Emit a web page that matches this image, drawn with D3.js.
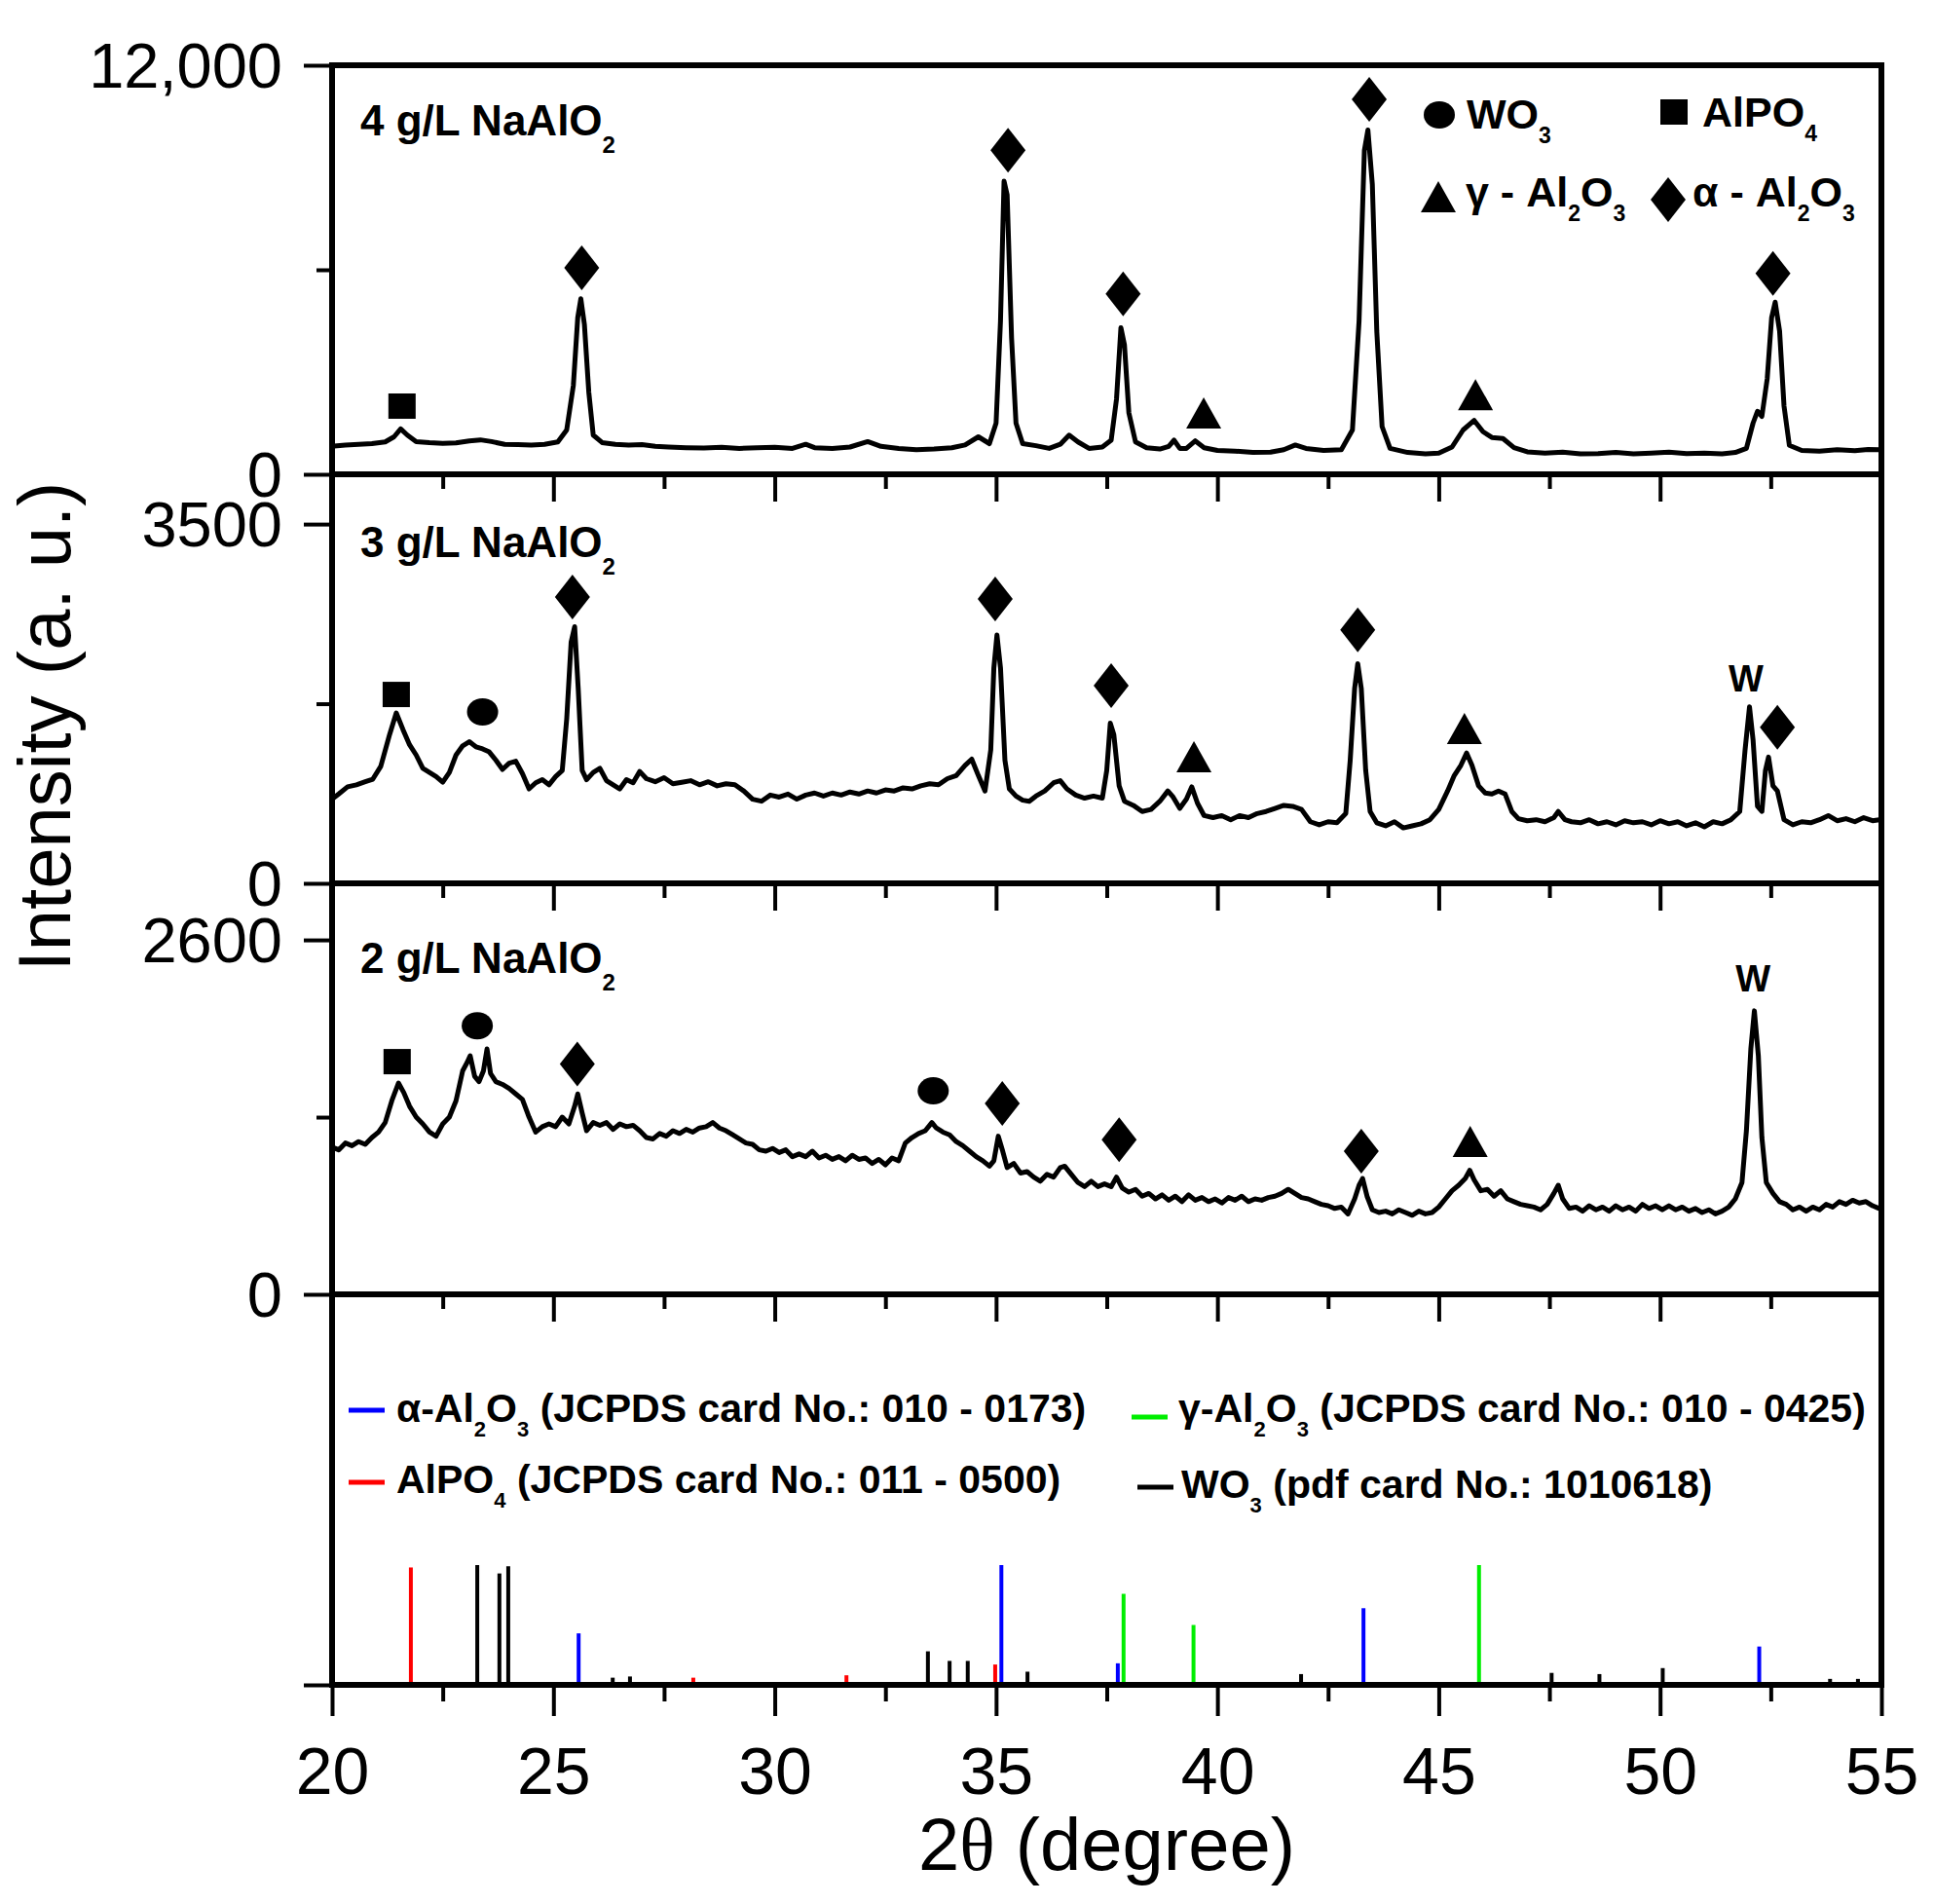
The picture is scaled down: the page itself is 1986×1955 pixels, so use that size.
<!DOCTYPE html>
<html>
<head>
<meta charset="utf-8">
<script src="https://cdn.jsdelivr.net/npm/d3@7"></script>
<style>
  body { margin: 0; background: #fff; }
  svg text { font-family: "Liberation Sans", Arial, sans-serif; fill: #000; }
</style>
</head>
<body>
<svg id="chart" width="1986" height="1955"></svg>
<script>
// =====================
// Data: [2theta, intensity]
// =====================
const scan4 = [[20.05,830],[20.3,860],[20.6,880],[20.9,900],[21.2,950],[21.4,1100],[21.55,1330],[21.7,1150],[21.9,960],
  [22.2,930],[22.5,910],[22.8,920],[23.1,980],[23.35,1010],[23.6,960],[23.9,880],[24.2,870],[24.5,860],[24.8,880],[25.1,950],
  [25.3,1300],[25.45,2600],[25.55,4600],[25.62,5150],[25.7,4400],[25.8,2400],[25.9,1150],[26.1,930],[26.4,880],[26.7,860],
  [27.0,870],[27.3,820],[27.6,800],[28.0,780],[28.4,770],[28.8,790],[29.2,760],[29.6,780],[30.0,790],[30.4,760],[30.7,880],
  [30.9,780],[31.3,760],[31.7,800],[32.1,960],[32.4,820],[32.8,760],[33.2,720],[33.6,740],[34.0,780],[34.3,860],[34.6,1100],
  [34.85,900],[35.0,1500],[35.1,4500],[35.18,8600],[35.25,8200],[35.35,4000],[35.45,1500],[35.6,900],[35.9,840],[36.2,760],
  [36.45,880],[36.65,1150],[36.85,950],[37.1,760],[37.4,800],[37.6,1000],[37.72,2200],[37.82,4300],[37.9,3800],[38.0,1800],
  [38.15,950],[38.4,780],[38.7,740],[38.9,820],[39.02,1000],[39.15,760],[39.3,760],[39.5,980],[39.7,780],[40.0,700],[40.4,680],
  [40.8,640],[41.2,650],[41.5,720],[41.76,860],[42.0,760],[42.4,700],[42.8,720],[43.05,1300],[43.2,4500],[43.32,9500],
  [43.4,10100],[43.5,8500],[43.6,4200],[43.72,1400],[43.9,760],[44.3,640],[44.7,600],[45.0,620],[45.3,800],[45.55,1300],
  [45.8,1580],[46.0,1250],[46.2,1080],[46.45,1050],[46.7,780],[47.0,660],[47.4,620],[47.8,650],[48.2,600],[48.6,610],
  [49.0,640],[49.4,600],[49.8,620],[50.2,650],[50.6,610],[51.0,620],[51.4,600],[51.7,640],[51.95,760],[52.1,1500],[52.2,1850],
  [52.3,1700],[52.42,2800],[52.52,4600],[52.6,5050],[52.7,4200],[52.8,2000],[52.92,850],[53.2,700],[53.6,680],[54.0,720],
  [54.4,690],[54.7,730],[54.95,720]];

const scan3 = [[20.0,820],[20.15,870],[20.35,940],[20.55,960],[20.75,990],[20.92,1015],[21.1,1140],[21.3,1450],[21.45,1660],
  [21.6,1500],[21.75,1350],[21.9,1250],[22.05,1120],[22.2,1080],[22.35,1040],[22.5,985],[22.65,1080],[22.8,1250],[22.95,1340],
  [23.1,1380],[23.25,1330],[23.4,1310],[23.55,1280],[23.7,1200],[23.85,1110],[24.0,1170],[24.15,1190],[24.3,1070],[24.45,920],
  [24.6,980],[24.75,1010],[24.9,960],[25.05,1040],[25.2,1100],[25.3,1600],[25.4,2350],[25.48,2500],[25.56,1900],[25.65,1100],
  [25.75,1010],[25.9,1080],[26.05,1120],[26.2,1000],[26.35,960],[26.5,920],[26.65,1010],[26.8,980],[26.95,1090],[27.1,1020],
  [27.3,990],[27.5,1030],[27.7,970],[27.9,985],[28.1,1000],[28.3,960],[28.5,990],[28.7,950],[28.9,970],[29.1,960],[29.3,900],
  [29.5,820],[29.7,800],[29.9,860],[30.1,840],[30.3,870],[30.5,820],[30.7,860],[30.9,880],[31.1,850],[31.3,880],[31.5,860],
  [31.7,890],[31.9,870],[32.1,900],[32.3,880],[32.5,910],[32.7,900],[32.9,930],[33.1,920],[33.3,950],[33.5,970],[33.7,960],
  [33.9,1020],[34.1,1050],[34.3,1150],[34.45,1210],[34.6,1050],[34.75,900],[34.88,1300],[34.95,2100],[35.02,2420],[35.1,2100],
  [35.2,1200],[35.3,920],[35.45,850],[35.6,810],[35.75,800],[35.9,850],[36.1,900],[36.3,980],[36.45,1000],[36.6,920],
  [36.8,860],[37.0,830],[37.2,850],[37.4,830],[37.5,1100],[37.58,1560],[37.66,1450],[37.78,950],[37.9,800],[38.1,760],
  [38.3,700],[38.5,720],[38.7,800],[38.88,900],[39.0,840],[39.15,730],[39.3,820],[39.42,940],[39.55,780],[39.7,660],
  [39.9,640],[40.1,660],[40.3,620],[40.5,660],[40.7,640],[40.9,680],[41.1,700],[41.3,730],[41.5,760],[41.7,750],[41.9,720],
  [42.1,600],[42.3,570],[42.5,600],[42.7,590],[42.9,680],[43.0,1200],[43.1,1900],[43.17,2140],[43.25,1900],[43.35,1100],
  [43.45,700],[43.6,590],[43.8,560],[44.0,600],[44.2,540],[44.4,560],[44.6,580],[44.8,620],[45.0,720],[45.2,900],[45.35,1050],
  [45.5,1150],[45.63,1270],[45.75,1150],[45.9,950],[46.05,880],[46.2,870],[46.35,900],[46.5,870],[46.65,700],[46.8,630],
  [47.0,610],[47.2,620],[47.4,600],[47.6,640],[47.7,700],[47.85,620],[48.0,600],[48.2,590],[48.4,620],[48.6,580],[48.8,600],
  [49.0,570],[49.2,610],[49.4,590],[49.6,600],[49.8,570],[50.0,610],[50.2,580],[50.4,600],[50.6,560],[50.8,590],[51.0,550],
  [51.2,600],[51.4,580],[51.6,620],[51.8,700],[51.92,1300],[52.02,1720],[52.1,1400],[52.2,750],[52.3,700],[52.38,1100],
  [52.45,1230],[52.55,950],[52.65,900],[52.8,620],[53.0,570],[53.2,600],[53.4,590],[53.6,620],[53.8,660],[54.0,610],
  [54.2,630],[54.4,600],[54.6,640],[54.8,610],[54.95,620]];

const scan2 = [[20.0,1080],[20.15,1060],[20.3,1110],[20.45,1090],[20.6,1120],[20.75,1100],[20.9,1150],[21.05,1190],[21.2,1260],
  [21.35,1420],[21.5,1550],[21.62,1480],[21.75,1380],[21.9,1300],[22.05,1250],[22.2,1190],[22.35,1160],[22.5,1250],[22.65,1300],
  [22.8,1420],[22.95,1640],[23.05,1700],[23.12,1750],[23.22,1600],[23.32,1560],[23.42,1640],[23.5,1800],[23.58,1620],
  [23.7,1560],[23.85,1540],[24.0,1510],[24.15,1470],[24.3,1430],[24.45,1300],[24.6,1190],[24.75,1230],[24.9,1250],[25.05,1230],
  [25.2,1300],[25.35,1250],[25.48,1380],[25.55,1470],[25.65,1330],[25.75,1200],[25.9,1260],[26.05,1240],[26.2,1260],
  [26.35,1210],[26.5,1250],[26.65,1230],[26.8,1240],[26.95,1200],[27.1,1150],[27.25,1140],[27.4,1180],[27.55,1160],
  [27.7,1200],[27.85,1180],[28.0,1210],[28.15,1190],[28.3,1220],[28.45,1230],[28.6,1260],[28.75,1220],[28.9,1200],
  [29.05,1170],[29.2,1140],[29.35,1110],[29.5,1100],[29.65,1060],[29.8,1050],[29.95,1070],[30.1,1040],[30.25,1060],
  [30.4,1010],[30.55,1030],[30.7,1010],[30.85,1050],[31.0,1000],[31.15,1020],[31.3,990],[31.45,1010],[31.6,980],[31.75,1020],
  [31.9,990],[32.05,1000],[32.2,960],[32.35,990],[32.5,950],[32.65,1000],[32.8,980],[32.95,1110],[33.1,1150],[33.25,1180],
  [33.4,1200],[33.55,1260],[33.65,1220],[33.8,1190],[33.95,1170],[34.1,1120],[34.25,1090],[34.4,1050],[34.55,1010],
  [34.7,980],[34.85,940],[34.95,980],[35.05,1160],[35.15,1050],[35.25,930],[35.4,960],[35.55,890],[35.7,900],[35.85,860],
  [36.0,830],[36.15,880],[36.3,860],[36.45,930],[36.55,940],[36.7,880],[36.85,820],[37.0,790],[37.15,830],[37.3,790],
  [37.45,810],[37.6,790],[37.72,860],[37.85,780],[38.0,750],[38.15,770],[38.3,720],[38.45,740],[38.6,700],[38.75,730],
  [38.9,690],[39.05,720],[39.2,680],[39.35,730],[39.5,690],[39.65,710],[39.8,680],[39.95,700],[40.1,670],[40.25,710],
  [40.4,690],[40.55,720],[40.7,680],[40.85,700],[41.0,690],[41.15,710],[41.3,720],[41.45,740],[41.6,770],[41.75,740],
  [41.9,710],[42.05,700],[42.2,680],[42.35,660],[42.5,650],[42.65,630],[42.8,640],[42.95,590],[43.1,700],[43.2,800],
  [43.28,850],[43.38,720],[43.5,620],[43.65,600],[43.8,610],[43.95,590],[44.1,620],[44.25,600],[44.4,580],[44.55,610],
  [44.7,590],[44.85,600],[45.0,640],[45.15,700],[45.3,760],[45.45,800],[45.6,850],[45.7,910],[45.8,840],[45.95,760],
  [46.1,770],[46.25,720],[46.4,760],[46.55,700],[46.7,680],[46.85,660],[47.0,650],[47.15,640],[47.3,620],[47.45,660],
  [47.6,740],[47.7,800],[47.8,700],[47.95,630],[48.1,640],[48.25,610],[48.4,650],[48.55,620],[48.7,640],[48.85,610],
  [49.0,650],[49.15,620],[49.3,640],[49.45,610],[49.6,660],[49.75,630],[49.9,650],[50.05,620],[50.2,650],[50.35,620],
  [50.5,640],[50.65,610],[50.8,630],[50.95,600],[51.1,620],[51.25,590],[51.4,610],[51.55,640],[51.7,700],[51.85,820],
  [51.95,1200],[52.05,1800],[52.13,2080],[52.22,1750],[52.3,1150],[52.4,820],[52.55,740],[52.7,680],[52.85,660],[53.0,620],
  [53.15,640],[53.3,610],[53.45,640],[53.6,620],[53.75,660],[53.9,640],[54.05,680],[54.2,660],[54.35,690],[54.5,670],
  [54.65,680],[54.8,650],[54.95,630]];

// Phase markers above the peaks: [shape, 2theta, intensity]
const marks4 = [['square',21.58,2000],['diamond',25.64,6060],['diamond',35.27,9510],['diamond',37.87,5290],
  ['triangle',39.69,1770],['diamond',43.43,11000],['triangle',45.83,2310],['diamond',52.55,5890]];
const marks3 = [['square',21.45,1840],['circle',23.4,1670],['diamond',25.43,2790],['diamond',34.98,2770],
  ['diamond',37.6,1925],['triangle',39.47,1225],['diamond',43.17,2470],['triangle',45.58,1500],['diamond',52.65,1520]];
const marks2 = [['square',21.47,1707],['circle',23.28,1970],['diamond',25.54,1690],['circle',33.58,1493],
  ['diamond',35.14,1400],['diamond',37.78,1135],['diamond',43.25,1050],['triangle',45.71,1115]];
const wLabels3 = [[51.94,1870]];
const wLabels2 = [[52.1,2220]];

// Reference card sticks: [2theta, relative intensity %]
const refAlpha = [[25.57,43],[35.12,100],[37.75,18],[43.3,64],[52.24,32]];
const refGamma = [[37.88,76],[39.46,50],[45.91,100]];
const refAlPO4 = [[21.78,98],[28.16,6],[31.62,8],[34.98,17]];
const refWO3 = [[23.28,100],[23.78,93],[23.98,99],[26.34,6],[26.73,7],[33.46,28],[33.95,20],[34.36,20],[35.71,11],
  [41.89,9],[47.55,10],[48.63,9],[50.06,14],[53.84,5],[54.47,5]];

// Axis ticks
const xMajor = [20, 25, 30, 35, 40, 45, 50, 55];
const xMinor = [22.5, 27.5, 32.5, 37.5, 42.5, 47.5, 52.5];
const panelNames = ['4 g/L NaAlO_2', '3 g/L NaAlO_2', '2 g/L NaAlO_2'];
const yTickMax = [12000, 3500, 2600];

// =====================
// Layout
// =====================
const left = 341, right = 1932,
  lineW = 6, curveW = 5,
  majorLen = 28, minorLen = 15;

const svg = d3.select('#chart');
const x = d3.scaleLinear([20, 55], [left, right]);

// panel frames: top, bottom pixel, top domain value
const panels = [
  { name: panelNames[0], scan: scan4, marks: marks4, w: [], top: 67, bottom: 487, yMax: 12000, tick: yTickMax[0], label: 139 },
  { name: panelNames[1], scan: scan3, marks: marks3, w: wLabels3, top: 487, bottom: 907, yMax: 3985, tick: yTickMax[1], label: 572 },
  { name: panelNames[2], scan: scan2, marks: marks2, w: wLabels2, top: 907, bottom: 1329, yMax: 3015, tick: yTickMax[2], label: 999 }
];
panels.forEach(p => p.y = d3.scaleLinear([0, p.yMax], [p.bottom, p.top]));

const shapes = {
  diamond: 'M0,-23L18,0L0,23L-18,0Z',
  square: 'M-14,-13H14V13H-14Z',
  triangle: 'M0,-17L18,15H-18Z',
  circle: 'M-16,0A16,14 0 1,0 16,0A16,14 0 1,0 -16,0Z'
};

// text with chemical subscripts written as "_2"
function formula(t, str, subSize, subDy) {
  str.split(/_(\d)/).forEach((s, i) => {
    if (!s) return;
    if (i % 2) {
      t.append('tspan').text(s).attr('font-size', subSize).attr('dy', subDy);
    } else {
      t.append('tspan').text(s).attr('dy', i > 0 ? -subDy : 0);
    }
  });
  return t;
}

function tidy(g) {
  g.select('.domain').remove();
  g.selectAll('.tick line').attr('stroke', '#000').attr('stroke-width', 4);
  g.attr('font-size', null).attr('font-family', null);
}

function xTicksDown(yPos) {
  svg.append('g').attr('transform', `translate(0,${yPos})`)
    .call(d3.axisBottom(x).tickValues(xMajor).tickSize(majorLen).tickFormat(''))
    .call(tidy);
  svg.append('g').attr('transform', `translate(0,${yPos})`)
    .call(d3.axisBottom(x).tickValues(xMinor).tickSize(minorLen).tickFormat(''))
    .call(tidy);
}

// =====================
// Panels with scans
// =====================
const line = d3.line().curve(d3.curveLinear);

panels.forEach((p, k) => {
  // x ticks hanging from the top edge (not on the first panel)
  if (k > 0) xTicksDown(p.top);

  // y axis: 0 and max labelled, half unlabelled
  const yAxis = svg.append('g').attr('transform', `translate(${left},0)`)
    .call(d3.axisLeft(p.y).tickValues([0, p.tick]).tickSize(29).tickPadding(22)
      .tickFormat(d => d >= 10000 ? d3.format(',')(d) : d))
    .call(tidy);
  yAxis.selectAll('text').attr('font-size', 65).attr('dy', '0.35em');
  svg.append('g').attr('transform', `translate(${left},0)`)
    .call(d3.axisLeft(p.y).tickValues([p.tick / 2]).tickSize(16).tickFormat(''))
    .call(tidy);

  svg.append('path')
    .datum(p.scan)
    .attr('d', line.x(d => x(d[0])).y(d => p.y(d[1])))
    .attr('fill', 'none')
    .attr('stroke', '#000')
    .attr('stroke-width', curveW)
    .attr('stroke-linejoin', 'round');

  svg.append('g').selectAll('path')
    .data(p.marks)
    .join('path')
    .attr('d', d => shapes[d[0]])
    .attr('transform', d => `translate(${x(d[1])},${p.y(d[2])})`)
    .attr('fill', '#000');

  svg.append('g').selectAll('text')
    .data(p.w)
    .join('text')
    .attr('x', d => x(d[0]))
    .attr('y', d => p.y(d[1]))
    .attr('text-anchor', 'middle')
    .attr('font-size', 38)
    .attr('font-weight', 'bold')
    .text('W');

  formula(svg.append('text').attr('x', 370).attr('y', p.label)
    .attr('font-size', 44).attr('font-weight', 'bold'), p.name, 24, 18);
});

// =====================
// Reference panel (JCPDS sticks)
// =====================
const refTop = 1329, refBottom = 1730;
const yRef = d3.scaleLinear([0, 326], [refBottom, refTop]);
xTicksDown(refTop);

const refSets = [
  { data: refWO3, color: '#000000' },
  { data: refAlPO4, color: '#ff0000' },
  { data: refAlpha, color: '#0000ff' },
  { data: refGamma, color: '#00ee00' }
];
refSets.forEach(s => {
  svg.append('g').selectAll('line')
    .data(s.data)
    .join('line')
    .attr('x1', d => x(d[0])).attr('x2', d => x(d[0]))
    .attr('y1', yRef(0)).attr('y2', d => yRef(d[1]))
    .attr('stroke', s.color)
    .attr('stroke-width', 4);
});

// ref panel zero tick
svg.append('g').attr('transform', `translate(${left},0)`)
  .call(d3.axisLeft(yRef).tickValues([0]).tickSize(29).tickFormat(''))
  .call(tidy);

// bottom x axis with labels
const xAxis = svg.append('g').attr('transform', `translate(0,${refBottom})`)
  .call(d3.axisBottom(x).tickValues(xMajor).tickSize(32))
  .call(tidy);
xAxis.selectAll('text').attr('font-size', 68).attr('y', 112).attr('dy', null);
svg.append('g').attr('transform', `translate(0,${refBottom})`)
  .call(d3.axisBottom(x).tickValues(xMinor).tickSize(17).tickFormat(''))
  .call(tidy);

// =====================
// Frame
// =====================
svg.append('rect')
  .attr('x', left).attr('y', panels[0].top)
  .attr('width', right - left).attr('height', refBottom - panels[0].top)
  .attr('fill', 'none').attr('stroke', '#000').attr('stroke-width', lineW);
[487, 907, 1329].forEach(yy => {
  svg.append('line').attr('x1', left).attr('x2', right).attr('y1', yy).attr('y2', yy)
    .attr('stroke', '#000').attr('stroke-width', lineW);
});

// =====================
// Legends
// =====================
const topLegend = [
  ['circle', 1478, 118, 'WO_3', 1506, 132],
  ['square', 1719, 115, 'AlPO_4', 1748, 130],
  ['triangle', 1477, 203, 'γ - Al_2O_3', 1505, 212],
  ['diamond', 1713, 205, 'α - Al_2O_3', 1738, 212]
];
topLegend.forEach(l => {
  svg.append('path').attr('d', shapes[l[0]]).attr('transform', `translate(${l[1]},${l[2]})`);
  formula(svg.append('text').attr('x', l[4]).attr('y', l[5])
    .attr('font-size', 43).attr('font-weight', 'bold'), l[3], 23, 15);
});

const refLegend = [
  ['#0000ff', 358, 1448, 'α-Al_2O_3 (JCPDS card No.: 010 - 0173)', 407, 1460],
  ['#ff0000', 358, 1522, 'AlPO_4 (JCPDS card No.: 011 - 0500)', 407, 1533],
  ['#00ee00', 1162, 1455, 'γ-Al_2O_3 (JCPDS card No.: 010 - 0425)', 1210, 1460],
  ['#000000', 1168, 1527, 'WO_3 (pdf card No.: 1010618)', 1213, 1538]
];
refLegend.forEach(l => {
  svg.append('line').attr('x1', l[1]).attr('x2', l[1] + 37).attr('y1', l[2]).attr('y2', l[2])
    .attr('stroke', l[0]).attr('stroke-width', 5);
  formula(svg.append('text').attr('x', l[4]).attr('y', l[5])
    .attr('font-size', 41).attr('font-weight', 'bold'), l[3], 22, 15);
});

// =====================
// Axis titles
// =====================
svg.append('text')
  .attr('transform', 'translate(72,746) rotate(-90)')
  .attr('text-anchor', 'middle')
  .attr('font-size', 76)
  .text('Intensity (a. u.)');

const xTitle = svg.append('text')
  .attr('x', (left + right) / 2).attr('y', 1920)
  .attr('text-anchor', 'middle')
  .attr('font-size', 76);
xTitle.append('tspan').text('2');
xTitle.append('tspan').text('θ').style('font-family', '"Liberation Serif", serif');
xTitle.append('tspan').text(' (degree)');
</script>
</body>
</html>
